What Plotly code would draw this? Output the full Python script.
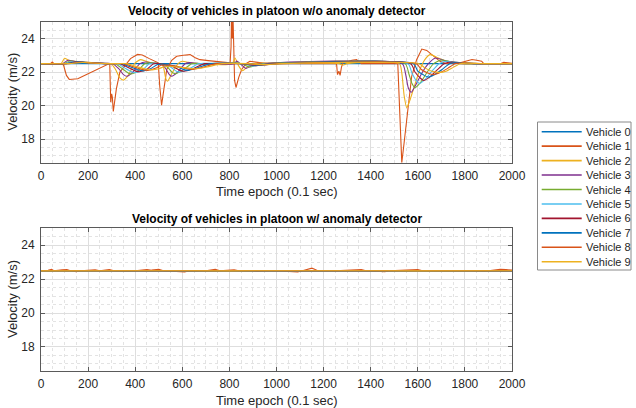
import plotly.graph_objects as go

W, H = 636, 408

vehicle_names = ["Vehicle 0", "Vehicle 1", "Vehicle 2", "Vehicle 3", "Vehicle 4",
                 "Vehicle 5", "Vehicle 6", "Vehicle 7", "Vehicle 8", "Vehicle 9"]
vehicle_colors = ["#0072BD", "#D95319", "#EDB120", "#7E2F8E", "#77AC30",
                  "#4DBEEE", "#A2142F", "#0072BD", "#D95319", "#EDB120"]

x_ticks = [0, 200, 400, 600, 800, 1000, 1200, 1400, 1600, 1800, 2000]
y_ticks = [18, 20, 22, 24]

# ---- top panel: w/o anomaly detector, (time, velocity) ----
veh0_top = [(0, 22.5), (2000, 22.5)]
veh1_top = [(0, 22.5), (40, 22.5), (48, 22.6), (55, 22.5), (90, 22.5), (96, 22.4), (108, 21.8),
            (120, 21.56), (156, 21.6), (185, 21.8), (212, 21.95), (240, 22.15), (269, 22.34),
            (286, 22.48), (292, 22.45), (296, 20.2), (300, 20.7), (303, 20.5), (307, 19.65),
            (320, 21.0), (335, 22.0), (357, 22.4), (380, 22.8), (410, 23.05), (430, 23.02),
            (460, 22.8), (490, 22.6), (498, 22.55), (504, 21.2), (512, 20.02), (522, 21.0),
            (534, 22.15), (555, 22.7), (576, 22.94), (605, 23.0), (633, 23.04), (655, 22.85),
            (675, 22.74), (710, 22.68), (746, 22.64), (790, 22.57), (803, 22.55), (807, 23.5),
            (809, 25.5), (811, 24.2), (813, 24.0), (815, 25.5), (818, 23.2), (822, 21.5),
            (828, 21.08), (840, 21.7), (852, 22.15), (870, 22.5), (887, 22.64), (910, 22.6),
            (930, 22.58), (960, 22.5), (1255, 22.5), (1259, 21.85), (1265, 22.05), (1270, 21.8),
            (1276, 22.3), (1284, 22.62), (1300, 22.6), (1320, 22.7), (1340, 22.74), (1350, 22.6),
            (1360, 22.5), (1515, 22.5), (1520, 21.0), (1526, 18.5), (1532, 16.6), (1542, 17.8),
            (1553, 19.2), (1574, 21.75), (1595, 22.74), (1617, 23.37), (1638, 23.29),
            (1666, 22.94), (1694, 22.64), (1723, 22.5), (1780, 22.55), (1807, 22.66),
            (1830, 22.75), (1850, 22.7), (1871, 22.65), (1880, 22.5), (1950, 22.5),
            (1965, 22.58), (1980, 22.55), (2000, 22.52)]
veh2_top = [(0, 22.5), (85, 22.5), (100, 22.82), (115, 22.72), (140, 22.62), (200, 22.58),
            (260, 22.52), (298, 22.5), (315, 22.2), (335, 21.65), (350, 21.52), (370, 21.8),
            (397, 22.5), (422, 22.74), (445, 22.65), (475, 22.52), (512, 22.48), (520, 22.3),
            (530, 21.6), (537, 21.45), (555, 21.9), (582, 22.5), (600, 22.64), (625, 22.58),
            (660, 22.5), (812, 22.5), (824, 22.84), (838, 22.4), (856, 22.08), (880, 22.35),
            (910, 22.5), (1265, 22.5), (1282, 22.42), (1300, 22.5), (1522, 22.5), (1532, 21.95),
            (1542, 20.6), (1553, 19.88), (1566, 20.3), (1581, 20.96), (1609, 22.15),
            (1630, 22.74), (1652, 23.04), (1687, 22.84), (1723, 22.64), (1780, 22.5), (2000, 22.5)]
veh3_top = [(0, 22.5), (90, 22.5), (115, 22.7), (150, 22.62), (210, 22.56), (270, 22.52),
            (305, 22.5), (330, 22.2), (350, 21.85), (365, 21.75), (390, 22.0), (420, 22.5),
            (445, 22.6), (470, 22.55), (500, 22.5), (515, 22.45), (530, 22.2), (545, 21.85),
            (555, 21.75), (580, 22.0), (612, 22.5), (632, 22.56), (670, 22.5), (820, 22.5),
            (832, 22.65), (850, 22.45), (870, 22.22), (900, 22.4), (940, 22.5), (1534, 22.5),
            (1548, 21.9), (1560, 21.05), (1572, 20.8), (1590, 21.2), (1620, 22.0), (1645, 22.5),
            (1675, 22.84), (1710, 22.7), (1760, 22.52), (1800, 22.5), (2000, 22.5)]
veh4_top = [(0, 22.5), (95, 22.5), (125, 22.66), (170, 22.6), (230, 22.54), (280, 22.5),
            (315, 22.5), (345, 22.2), (370, 21.95), (382, 21.88), (410, 22.05), (440, 22.5),
            (465, 22.55), (495, 22.52), (520, 22.45), (540, 22.25), (560, 21.95), (572, 21.9),
            (600, 22.1), (640, 22.5), (660, 22.52), (700, 22.5), (830, 22.55), (860, 22.45),
            (885, 22.3), (925, 22.45), (960, 22.5), (1546, 22.5), (1562, 21.9), (1576, 21.3),
            (1588, 21.07), (1610, 21.35), (1640, 22.0), (1667, 22.5), (1700, 22.72),
            (1740, 22.62), (1790, 22.52), (1830, 22.5), (2000, 22.5)]
veh5_top = [(0, 22.5), (100, 22.5), (135, 22.63), (180, 22.58), (240, 22.53), (285, 22.5),
            (325, 22.5), (355, 22.25), (385, 22.02), (400, 21.96), (430, 22.1), (460, 22.5),
            (485, 22.52), (520, 22.45), (550, 22.3), (575, 22.05), (590, 22.0), (625, 22.15),
            (668, 22.5), (700, 22.52), (840, 22.52), (870, 22.45), (900, 22.35), (945, 22.47),
            (980, 22.5), (1558, 22.5), (1575, 21.95), (1593, 21.5), (1607, 21.32), (1630, 21.55),
            (1660, 22.05), (1690, 22.5), (1722, 22.64), (1765, 22.58), (1820, 22.51),
            (1860, 22.5), (2000, 22.5)]
veh6_top = [(0, 22.5), (105, 22.5), (145, 22.61), (190, 22.57), (250, 22.52), (290, 22.5),
            (335, 22.5), (365, 22.3), (400, 22.07), (418, 22.02), (448, 22.15), (478, 22.5),
            (500, 22.5), (525, 22.45), (560, 22.32), (590, 22.1), (607, 22.05), (645, 22.2),
            (695, 22.5), (720, 22.51), (850, 22.5), (880, 22.45), (915, 22.38), (955, 22.47),
            (990, 22.5), (1570, 22.5), (1588, 22.0), (1610, 21.65), (1625, 21.5), (1650, 21.7),
            (1680, 22.1), (1712, 22.5), (1745, 22.6), (1790, 22.55), (1845, 22.5), (2000, 22.5)]
veh7_top = [(0, 22.5), (110, 22.5), (155, 22.6), (200, 22.56), (255, 22.52), (295, 22.5),
            (345, 22.5), (375, 22.33), (415, 22.12), (436, 22.07), (465, 22.2), (495, 22.45),
            (520, 22.48), (540, 22.44), (575, 22.33), (605, 22.15), (625, 22.1), (665, 22.25),
            (720, 22.5), (860, 22.5), (890, 22.45), (930, 22.4), (970, 22.47), (1000, 22.5),
            (1582, 22.5), (1600, 22.05), (1625, 21.82), (1645, 21.7), (1672, 21.85),
            (1703, 22.15), (1735, 22.5), (1768, 22.57), (1815, 22.53), (1860, 22.5), (2000, 22.5)]
veh8_top = [(0, 22.5), (115, 22.5), (165, 22.58), (210, 22.55), (260, 22.52), (300, 22.5),
            (355, 22.5), (385, 22.35), (430, 22.15), (454, 22.1), (485, 22.22), (510, 22.4),
            (530, 22.42), (550, 22.4), (590, 22.3), (620, 22.2), (642, 22.15), (685, 22.28),
            (745, 22.5), (870, 22.5), (905, 22.46), (945, 22.42), (985, 22.48), (1010, 22.5),
            (1594, 22.5), (1615, 22.15), (1642, 21.95), (1667, 21.85), (1695, 21.97),
            (1727, 22.22), (1758, 22.5), (1790, 22.55), (1840, 22.52), (1880, 22.5), (2000, 22.5)]
veh9_top = [(0, 22.5), (120, 22.5), (175, 22.57), (220, 22.54), (265, 22.51), (305, 22.5),
            (365, 22.5), (395, 22.37), (445, 22.18), (472, 22.13), (500, 22.2), (520, 22.3),
            (545, 22.35), (565, 22.32), (600, 22.27), (635, 22.22), (660, 22.2), (705, 22.3),
            (770, 22.5), (880, 22.5), (915, 22.47), (960, 22.45), (1000, 22.48), (1020, 22.5),
            (1606, 22.5), (1630, 22.25), (1660, 22.05), (1692, 21.98), (1720, 22.05),
            (1750, 22.28), (1780, 22.5), (1812, 22.53), (1860, 22.51), (1900, 22.5), (2000, 22.5)]

# ---- bottom panel: w/ anomaly detector ----
veh0_bot = [(0, 22.5), (2000, 22.5)]
veh1_bot = [(0, 22.5), (30, 22.52), (45, 22.58), (55, 22.5), (90, 22.55), (110, 22.57),
            (125, 22.5), (150, 22.44), (170, 22.5), (230, 22.55), (250, 22.5), (290, 22.56),
            (310, 22.5), (360, 22.47), (400, 22.5), (450, 22.57), (470, 22.53), (500, 22.58),
            (520, 22.5), (580, 22.44), (610, 22.42), (630, 22.5), (700, 22.5), (740, 22.58),
            (760, 22.5), (820, 22.55), (840, 22.5), (900, 22.5), (920, 22.46), (950, 22.5),
            (1000, 22.5), (1070, 22.44), (1090, 22.43), (1110, 22.5), (1140, 22.6), (1150, 22.65),
            (1162, 22.58), (1175, 22.5), (1250, 22.5), (1360, 22.56), (1380, 22.5), (1440, 22.45),
            (1460, 22.44), (1480, 22.5), (1550, 22.55), (1600, 22.57), (1620, 22.5),
            (1680, 22.46), (1700, 22.5), (1770, 22.44), (1790, 22.46), (1810, 22.5),
            (1880, 22.46), (1900, 22.5), (1930, 22.55), (1950, 22.58), (1975, 22.57), (2000, 22.53)]
veh2_bot = [(0, 22.48), (300, 22.49), (600, 22.47), (900, 22.48), (1200, 22.49), (1500, 22.48),
            (1800, 22.47), (2000, 22.48)]
veh3_bot = [(0, 22.5), (2000, 22.5)]
veh4_bot = [(0, 22.5), (2000, 22.5)]
veh5_bot = [(0, 22.5), (2000, 22.5)]
veh6_bot = [(0, 22.5), (2000, 22.5)]
veh7_bot = [(0, 22.49), (2000, 22.49)]
veh8_bot = [(0, 22.5), (2000, 22.5)]
veh9_bot = [(0, 22.49), (400, 22.5), (800, 22.49), (1200, 22.5), (1600, 22.49), (2000, 22.5)]

top_series = [veh0_top, veh1_top, veh2_top, veh3_top, veh4_top,
              veh5_top, veh6_top, veh7_top, veh8_top, veh9_top]
bot_series = [veh0_bot, veh1_bot, veh2_bot, veh3_bot, veh4_bot,
              veh5_bot, veh6_bot, veh7_bot, veh8_bot, veh9_bot]

# ---- layout geometry (pixels of the 636x408 reference) ----
AX_L, AX_R = 41, 512
TOP_T, TOP_B = 21.7, 162.7
BOT_T, BOT_B = 228.3, 370.7


def fx(p):
    return p / W


def fy(p):
    return 1 - p / H


fig = go.Figure()
for i in range(10):
    shape = "linear" if i == 1 else "spline"
    for pts, xa, ya in ((top_series[i], "x", "y"), (bot_series[i], "x2", "y2")):
        fig.add_trace(go.Scatter(
            x=[p[0] for p in pts], y=[p[1] for p in pts], mode="lines",
            name=vehicle_names[i], showlegend=False, xaxis=xa, yaxis=ya,
            line=dict(color=vehicle_colors[i], width=1.1, shape=shape, smoothing=0.6)))

font_family = "Liberation Sans, Arial, Helvetica, sans-serif"
tick_font = dict(family=font_family, size=12, color="#262626")
axis_common = dict(showline=True, linecolor="#5a5a5a", linewidth=1, mirror="ticks",
                   ticks="inside", ticklen=4, tickcolor="#5a5a5a", tickwidth=1,
                   showgrid=True, gridcolor="#dedede", gridwidth=1, zeroline=False,
                   tickfont=tick_font, automargin=False)

xaxis_common = dict(axis_common, range=[0, 2000], tickvals=x_ticks, ticklabelstandoff=2,
                    minor=dict(dtick=50, tick0=0, showgrid=True, gridcolor="#e3e3e3",
                               griddash="dot", gridwidth=1, ticks=""))
yaxis_common = dict(axis_common, range=[16.6, 25], tickvals=y_ticks, ticklabelstandoff=3,
                    minor=dict(dtick=0.5, tick0=0, showgrid=True, gridcolor="#e3e3e3",
                               griddash="dot", gridwidth=1, ticks=""))

fig.update_layout(
    width=W, height=H, autosize=False, margin=dict(l=0, r=0, t=0, b=0, pad=0),
    paper_bgcolor="white", plot_bgcolor="white",
    xaxis=dict(xaxis_common, domain=[fx(AX_L), fx(AX_R)], anchor="y"),
    yaxis=dict(yaxis_common, domain=[fy(TOP_B), fy(TOP_T)], anchor="x"),
    xaxis2=dict(xaxis_common, domain=[fx(AX_L), fx(AX_R)], anchor="y2"),
    yaxis2=dict(yaxis_common, domain=[fy(BOT_B), fy(BOT_T)], anchor="x2"),
)

cx = fx((AX_L + AX_R) / 2)
label_font = dict(family=font_family, size=13, color="#262626")
title_font = dict(family=font_family, size=12, color="#000000")
ann = [
    dict(text="<b>Velocity of vehicles in platoon w/o anomaly detector</b>", x=cx, y=fy(11),
         font=title_font),
    dict(text="<b>Velocity of vehicles in platoon w/ anomaly detector</b>", x=cx, y=fy(219),
         font=title_font),
    dict(text="Time epoch (0.1 sec)", x=cx, y=fy(191), font=label_font),
    dict(text="Time epoch (0.1 sec)", x=cx, y=fy(400), font=label_font),
    dict(text="Velocity (m/s)", x=fx(12.5), y=fy((TOP_T + TOP_B) / 2), textangle=-90,
         font=label_font),
    dict(text="Velocity (m/s)", x=fx(12.5), y=fy((BOT_T + BOT_B) / 2), textangle=-90,
         font=label_font),
]

# ---- legend box (drawn as shapes + text) ----
LG_L, LG_R, LG_T, LG_B = 537.5, 631, 122, 270
ROW0, ROWSTEP = 131.7, 14.45
shapes = [dict(type="rect", xref="paper", yref="paper", x0=fx(LG_L), x1=fx(LG_R),
               y0=fy(LG_B), y1=fy(LG_T), line=dict(color="#8a8a8a", width=1),
               fillcolor="white", layer="above")]
for i in range(10):
    yy = fy(ROW0 + ROWSTEP * i)
    shapes.append(dict(type="line", xref="paper", yref="paper", x0=fx(541.7), x1=fx(581.7),
                       y0=yy, y1=yy, line=dict(color=vehicle_colors[i], width=1.6),
                       layer="above"))
    ann.append(dict(text=vehicle_names[i], x=fx(585), y=yy, xanchor="left",
                    font=dict(family=font_family, size=11, color="#262626")))

for a in ann:
    a.setdefault("xref", "paper")
    a.setdefault("yref", "paper")
    a.setdefault("showarrow", False)
    a.setdefault("xanchor", "center")
    a.setdefault("yanchor", "middle")
    a.setdefault("borderpad", 0)

fig.update_layout(annotations=ann, shapes=shapes)
fig.write_html("out.html", config={"responsive": False, "displayModeBar": False},
               post_script="document.body.style.margin='0';"
                           "document.body.style.padding='0';"
                           "document.body.style.overflow='hidden';")
